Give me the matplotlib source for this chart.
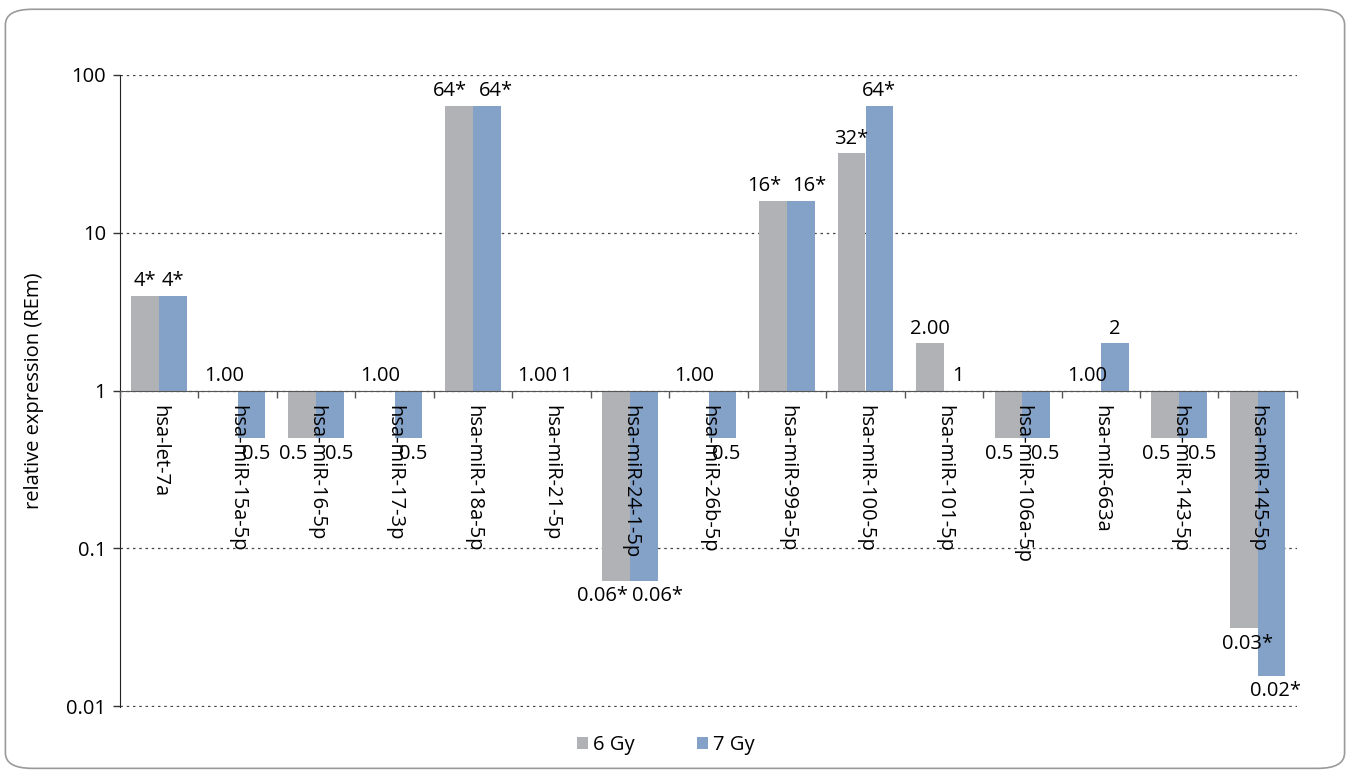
import numpy as np
import matplotlib
matplotlib.use('Agg')
import matplotlib.pyplot as plt
from matplotlib.patches import FancyBboxPatch
from matplotlib.ticker import FixedLocator, NullLocator, FixedFormatter

plt.rcParams['font.family'] = ['Open Sans', 'DejaVu Sans']

mirnas = ['hsa-let-7a', 'hsa-miR-15a-5p', 'hsa-miR-16-5p', 'hsa-miR-17-3p',
          'hsa-miR-18a-5p', 'hsa-miR-21-5p', 'hsa-miR-24-1-5p', 'hsa-miR-26b-5p',
          'hsa-miR-99a-5p', 'hsa-miR-100-5p', 'hsa-miR-101-5p', 'hsa-miR-106a-5p',
          'hsa-miR-663a', 'hsa-miR-143-5p', 'hsa-miR-145-5p']

gy6 = [4, 1, 0.5, 1, 64, 1, 0.0625, 1, 16, 32, 2, 0.5, 1, 0.5, 0.03125]
gy7 = [4, 0.5, 0.5, 0.5, 64, 1, 0.0625, 0.5, 16, 64, 1, 0.5, 2, 0.5, 0.015625]

gy6_labels = ['4*', '1.00', '0.5', '1.00', '64*', '1.00', '0.06*', '1.00',
              '16*', '32*', '2.00', '0.5', '1.00', '0.5', '0.03*']
gy7_labels = ['4*', '0.5', '0.5', '0.5', '64*', '1', '0.06*', '0.5',
              '16*', '64*', '1', '0.5', '2', '0.5', '0.02*']

yticks = [0.01, 0.1, 1, 10, 100]
ytick_labels = ['0.01', '0.1', '1', '10', '100']

c6 = '#b1b2b6'
c7 = '#84a2c8'
fs = 14.5

fig = plt.figure(figsize=(13.5, 7.73), dpi=100)
ax = fig.add_axes([0.0889, 0.0854, 0.8718, 0.8176])

x = np.arange(len(mirnas))
w = 0.352
off = 0.178
base = 1.0

def draw_series(vals, labels, other_labels, offset, color, name, side):
    vals = np.array(vals, dtype=float)
    ax.bar(x + offset, vals - base, bottom=base, width=w, color=color,
           label=name, zorder=3)
    for xi, v, t, t2 in zip(x + offset, vals, labels, other_labels):
        # spread identical neighbouring labels apart so they don't collide
        dx = 0
        if t == t2 and len(t) > 2:
            dx = side * (1.6 * len(t) + 1.5)
        elif v < 1:
            dx = 3
        if v >= 1:
            ax.annotate(t, (xi, v), xytext=(dx, 3), textcoords='offset points',
                        ha='center', va='bottom', fontsize=fs, zorder=6)
        else:
            ax.annotate(t, (xi, v), xytext=(dx, -4), textcoords='offset points',
                        ha='center', va='top', fontsize=fs, zorder=6)

draw_series(gy6, gy6_labels, gy7_labels, -off, c6, '6 Gy', -1)
draw_series(gy7, gy7_labels, gy6_labels, off, c7, '7 Gy', 1)

ax.set_yscale('log')
ax.set_ylim(0.0099, 100)
ax.set_xlim(-0.5, len(mirnas) - 0.5)

ax.yaxis.set_major_locator(FixedLocator(yticks))
ax.yaxis.set_major_formatter(FixedFormatter(ytick_labels))
ax.yaxis.set_minor_locator(NullLocator())
ax.tick_params(axis='y', direction='out', length=5, width=1, labelsize=fs,
               color='#333333', pad=5)

ax.set_xticks(x)
ax.set_xticklabels(mirnas)
ax.set_xticks(np.arange(-0.5, len(mirnas), 1), minor=True)
ax.tick_params(axis='x', which='major', length=0, pad=10, labelsize=fs,
               labelrotation=270)
ax.tick_params(axis='x', which='minor', direction='out', length=5, width=1,
               color='#555555')
plt.setp(ax.get_xticklabels(), ha='center', va='top', rotation_mode='default')

ax.spines['bottom'].set_position(('data', 1))
ax.spines['bottom'].set_color('#555555')
ax.spines['bottom'].set_zorder(5)
ax.spines['left'].set_color('#222222')
ax.spines['top'].set_visible(False)
ax.spines['right'].set_visible(False)

ax.yaxis.grid(True, linestyle=(0, (2, 3)), color='#444444', linewidth=0.9)
ax.set_axisbelow(True)
# category names sit on top of the bars
ax.xaxis.set_zorder(5)

ax.set_ylabel('relative expression (REm)', fontsize=fs, labelpad=16)

fig.legend(loc='center', bbox_to_anchor=(0.493, 0.036), ncol=2, frameon=False,
           fontsize=fs, handlelength=0.55, handleheight=0.55, handletextpad=0.25,
           columnspacing=3.1)

fig.patches.append(FancyBboxPatch((0.004, 0.006), 0.992, 0.982,
                                  boxstyle='round,pad=0,rounding_size=0.02',
                                  transform=fig.transFigure, facecolor='none',
                                  edgecolor='#9a9a9a', linewidth=1.2))

fig.savefig('out.png', dpi=100)
